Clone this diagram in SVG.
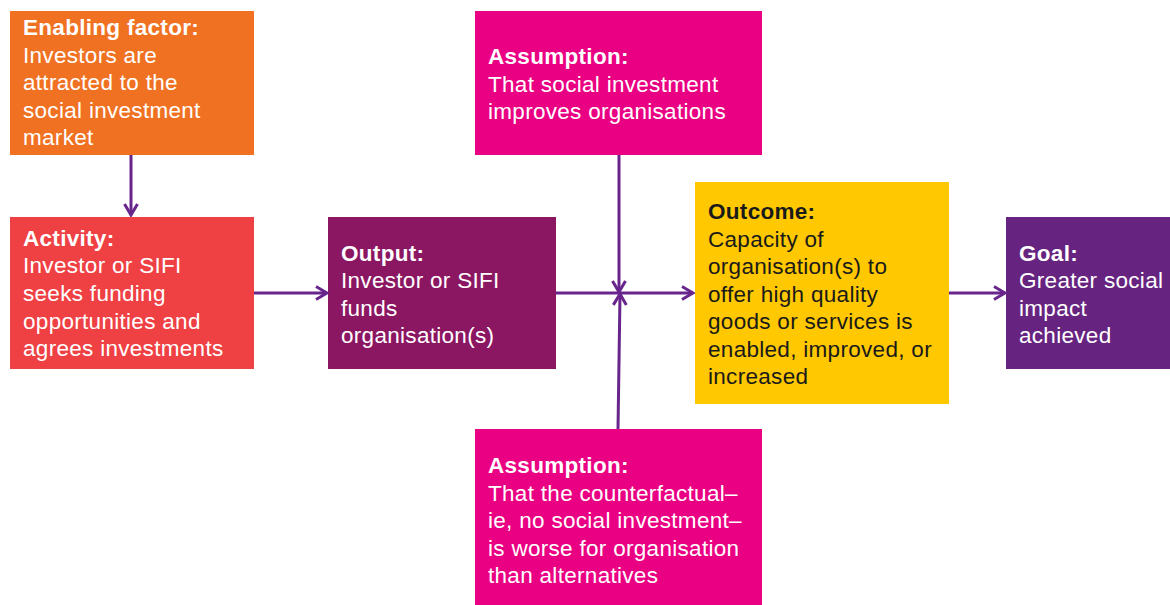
<svg xmlns="http://www.w3.org/2000/svg" width="1170" height="605" viewBox="0 0 1170 605">
<defs>
<style>
.t{font-family:"Liberation Sans",Arial,sans-serif;font-size:22.5px;letter-spacing:0.3px;fill:#fff}
.b{font-weight:bold}
.dk{fill:#1a1a1a}
.c{stroke:#68258C;stroke-width:3;fill:none}
</style>
<marker id="ah" viewBox="0 0 16 16" refX="14" refY="8" markerWidth="16" markerHeight="16" markerUnits="userSpaceOnUse" orient="auto">
<path d="M3,1.5 L14,8 L3,14.5" fill="none" stroke="#68258C" stroke-width="3"/>
</marker>
</defs>
<rect width="1170" height="605" fill="#fff"/>
<g id="enabling">
<rect x="10" y="11" width="244" height="144" fill="#F07122"/>
<text class="t"><tspan class="b" x="23" y="35">Enabling factor:</tspan><tspan x="23" y="63">Investors are</tspan><tspan x="23" y="90">attracted to the</tspan><tspan x="23" y="118">social investment</tspan><tspan x="23" y="145">market</tspan></text>
</g>
<g id="activity">
<rect x="10" y="217" width="244" height="152" fill="#EF4044"/>
<text class="t"><tspan class="b" x="23" y="246">Activity:</tspan><tspan x="23" y="273">Investor or SIFI</tspan><tspan x="23" y="301">seeks funding</tspan><tspan x="23" y="329">opportunities and</tspan><tspan x="23" y="356">agrees investments</tspan></text>
</g>
<g id="output">
<rect x="328" y="217" width="228" height="152" fill="#8B1762"/>
<text class="t"><tspan class="b" x="341" y="261">Output:</tspan><tspan x="341" y="288">Investor or SIFI</tspan><tspan x="341" y="316">funds</tspan><tspan x="341" y="343">organisation(s)</tspan></text>
</g>
<g id="assumption-top">
<rect x="475" y="11" width="287" height="144" fill="#EA0082"/>
<text class="t"><tspan class="b" x="488" y="64">Assumption:</tspan><tspan x="488" y="92">That social investment</tspan><tspan x="488" y="119">improves organisations</tspan></text>
</g>
<g id="outcome">
<rect x="695" y="182" width="254" height="222" fill="#FFC800"/>
<text class="t dk"><tspan class="b" x="708" y="219">Outcome:</tspan><tspan x="708" y="247">Capacity of</tspan><tspan x="708" y="274">organisation(s) to</tspan><tspan x="708" y="302">offer high quality</tspan><tspan x="708" y="329">goods or services is</tspan><tspan x="708" y="357">enabled, improved, or</tspan><tspan x="708" y="384">increased</tspan></text>
</g>
<g id="goal">
<rect x="1006" y="217" width="164" height="152" fill="#662480"/>
<text class="t"><tspan class="b" x="1019" y="261">Goal:</tspan><tspan x="1019" y="288">Greater social</tspan><tspan x="1019" y="316">impact</tspan><tspan x="1019" y="343">achieved</tspan></text>
</g>
<g id="assumption-bottom">
<rect x="475" y="429" width="287" height="176" fill="#EA0082"/>
<text class="t"><tspan class="b" x="488" y="473">Assumption:</tspan><tspan x="488" y="501">That the counterfactual–</tspan><tspan x="488" y="528">ie, no social investment–</tspan><tspan x="488" y="556">is worse for organisation</tspan><tspan x="488" y="583">than alternatives</tspan></text>
</g>
<g id="connectors">
<path class="c" d="M131,155 L131,215" marker-end="url(#ah)"/>
<path class="c" d="M254,293 L327,293" marker-end="url(#ah)"/>
<path class="c" d="M556,293 L693,293" marker-end="url(#ah)"/>
<path class="c" d="M619,155 L619,292" marker-end="url(#ah)"/>
<path class="c" d="M618,429 L620,294" marker-end="url(#ah)"/>
<path class="c" d="M949,293 L1005,293" marker-end="url(#ah)"/>
</g>
</svg>
